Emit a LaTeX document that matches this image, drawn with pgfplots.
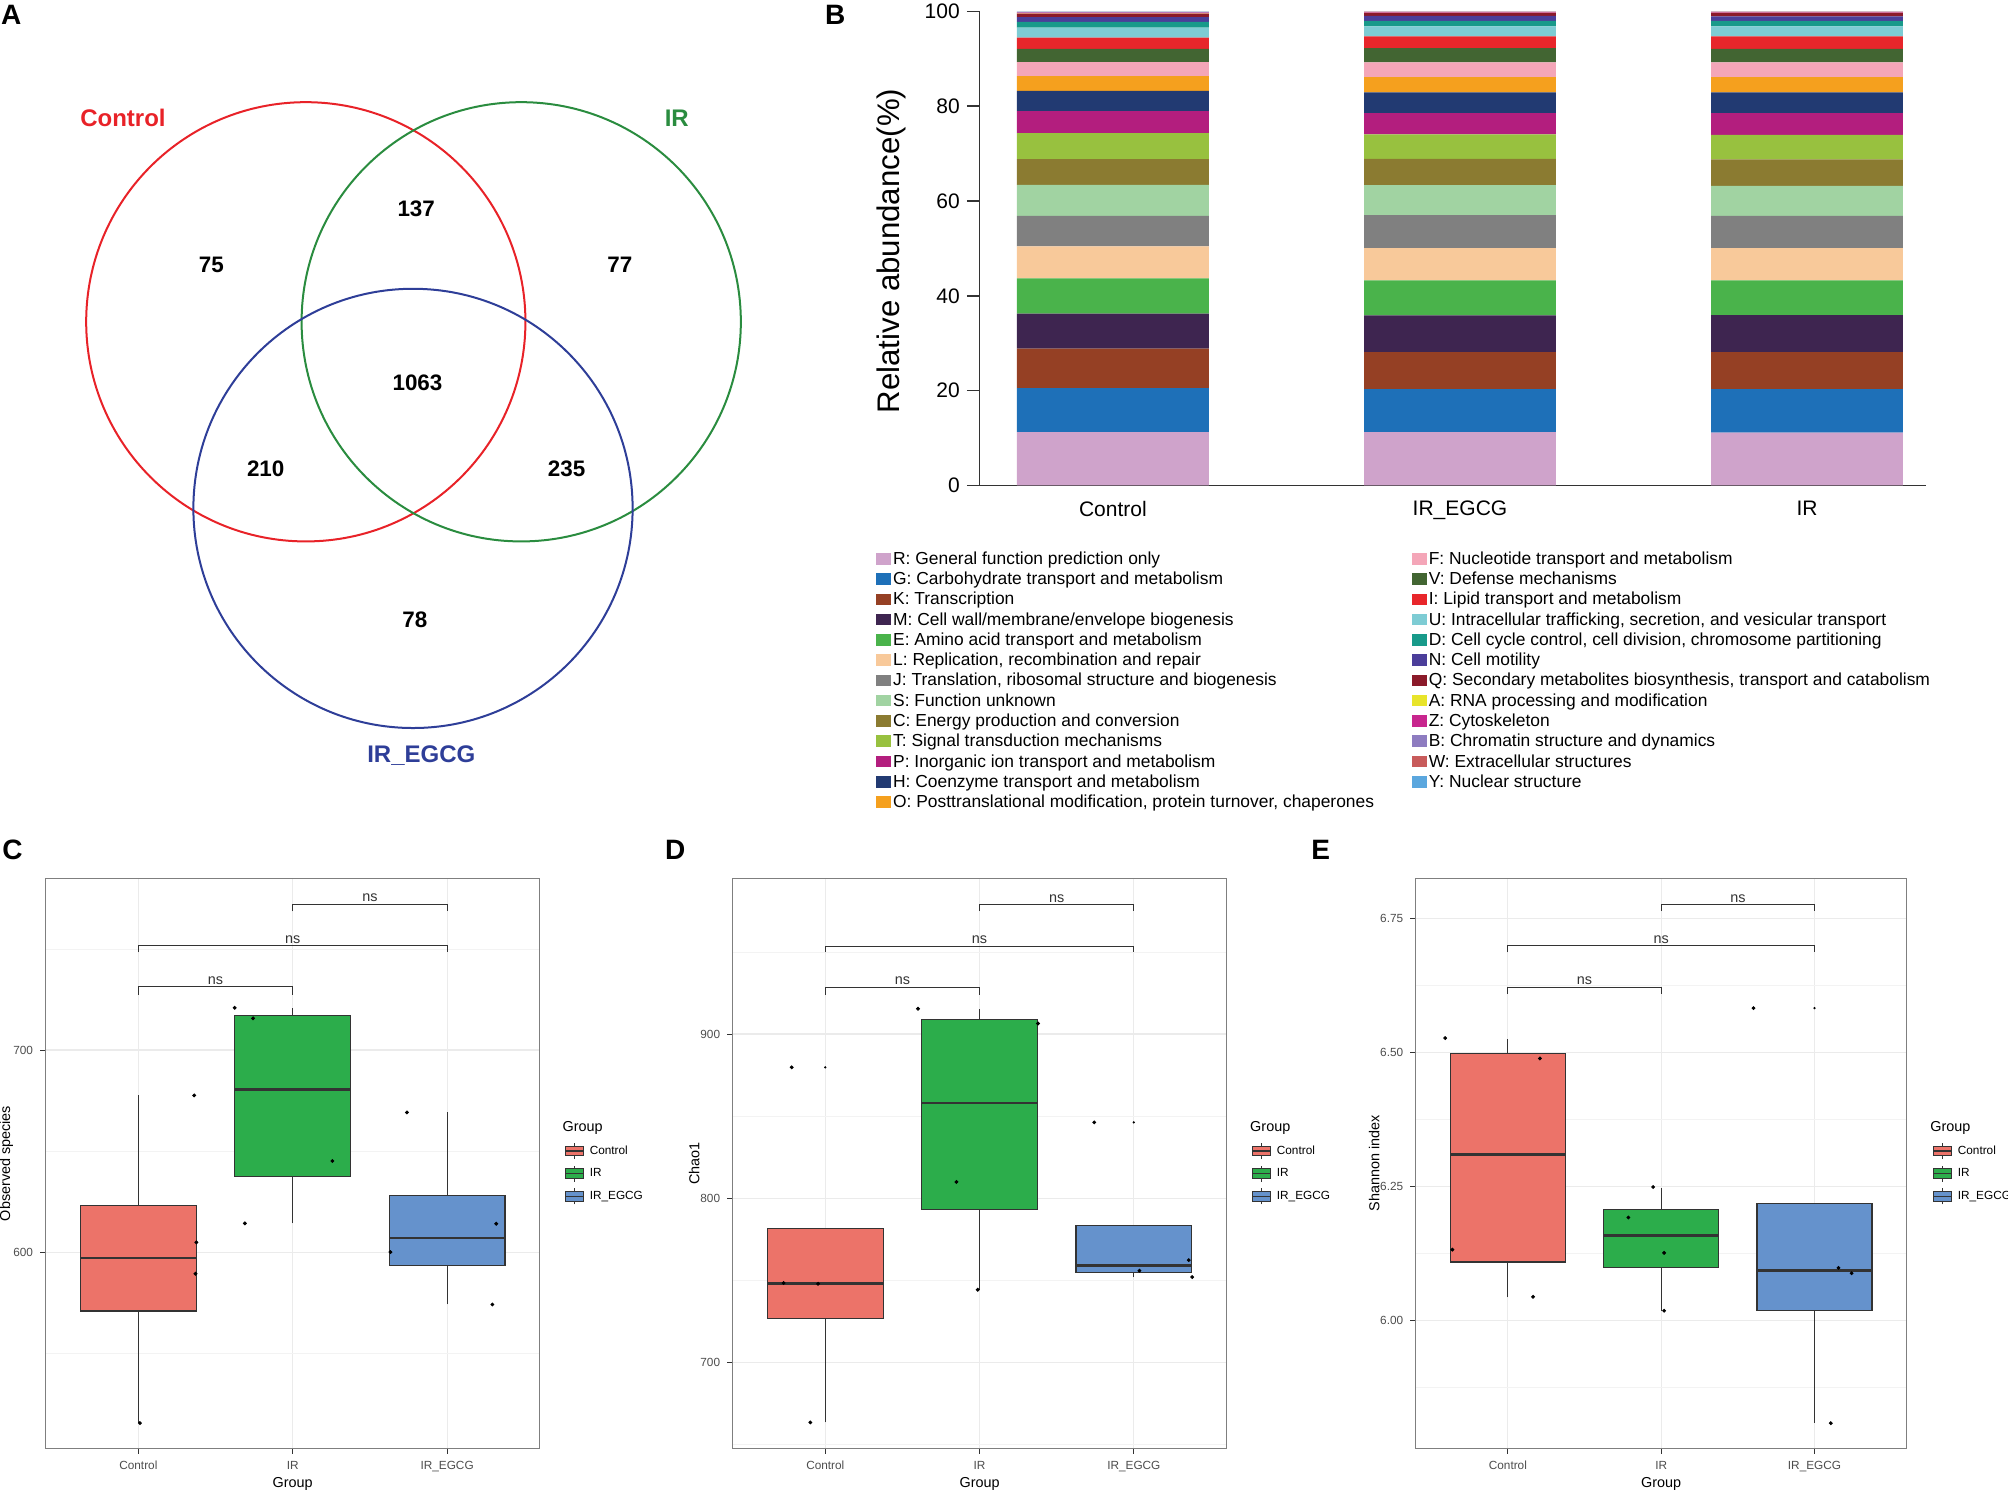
\documentclass[border=0pt]{standalone}
\usepackage{fontspec}
\setmainfont{Liberation Sans}
\usepackage{pgfplots}
\usepackage{pgfplotstable}
\pgfplotsset{compat=1.18}

% colours
\definecolor{c33}{HTML}{333333}
\definecolor{c4d}{HTML}{4D4D4D}
\definecolor{cborder}{HTML}{7F7F7F}
\definecolor{gridmaj}{HTML}{EBEBEB}
\definecolor{gridmin}{HTML}{F3F3F3}
\definecolor{vred}{HTML}{E82228}
\definecolor{vgreen}{HTML}{2A8C3F}
\definecolor{vblue}{HTML}{2E3E98}
\definecolor{bxC}{HTML}{EC7369}
\definecolor{bxI}{HTML}{2CAD4B}
\definecolor{bxE}{HTML}{6592CC}
\definecolor{cogR}{HTML}{CFA3CB}
\definecolor{cogG}{HTML}{1E70B8}
\definecolor{cogK}{HTML}{954024}
\definecolor{cogM}{HTML}{3E2550}
\definecolor{cogE}{HTML}{4AB34B}
\definecolor{cogL}{HTML}{F8C99A}
\definecolor{cogJ}{HTML}{808080}
\definecolor{cogS}{HTML}{A1D3A2}
\definecolor{cogC}{HTML}{8B7B31}
\definecolor{cogT}{HTML}{98C13F}
\definecolor{cogP}{HTML}{B31E7E}
\definecolor{cogH}{HTML}{223A72}
\definecolor{cogO}{HTML}{F5A01E}
\definecolor{cogF}{HTML}{F4A6B8}
\definecolor{cogV}{HTML}{426532}
\definecolor{cogI}{HTML}{E8262B}
\definecolor{cogU}{HTML}{7ECCD4}
\definecolor{cogD}{HTML}{189A8A}
\definecolor{cogN}{HTML}{4B3E9A}
\definecolor{cogQ}{HTML}{8B1A2A}
\definecolor{cogA}{HTML}{E8E42B}
\definecolor{cogZ}{HTML}{C8268E}
\definecolor{cogB}{HTML}{8E7CC0}
\definecolor{cogW}{HTML}{C85B5B}
\definecolor{cogY}{HTML}{5BA7DE}

% relative abundance (%), rows: Control, IR_EGCG, IR
\pgfplotstableread{
x R G K M E L J S C T P H O F V I U D N Q A Z B W Y
0 11.25 9.28 8.30 7.39 7.45 6.75 6.47 6.54 5.42 5.48 4.64 4.29 3.09 2.95 2.81 2.39 2.11 1.20 0.98 0.70 0.05 0.20 0.15 0.05 0.06
1 11.25 9.07 7.81 7.73 7.39 6.82 6.96 6.33 5.56 5.13 4.50 4.36 3.24 3.09 3.02 2.47 2.11 1.19 1.05 0.57 0.05 0.12 0.08 0.05 0.05
2 11.11 9.21 7.81 7.81 7.31 6.82 6.82 6.33 5.56 5.20 4.57 4.36 3.24 3.09 2.88 2.61 2.11 1.19 0.92 0.70 0.05 0.12 0.08 0.05 0.05
}\cogdata

\newcommand\lc[1]{\makebox[258.3pt][l]{#1}}

% box: left, centre, right, lower whisker, Q1, median, Q3, upper whisker, colour
\newcommand\ggbx[9]{%
  \addplot[forget plot, c33, line width=0.55pt] coordinates {(#2,#4) (#2,#5)};
  \addplot[forget plot, c33, line width=0.55pt] coordinates {(#2,#7) (#2,#8)};
  \addplot[forget plot, draw=c33, fill=#9, line width=0.55pt]
    coordinates {(#1,#5) (#3,#5) (#3,#7) (#1,#7)} -- cycle;
  \addplot[forget plot, c33, line width=1.3pt] coordinates {(#1,#6) (#3,#6)};
}

\pgfplotsset{
  every axis/.append style={/pgf/number format/assume math mode=true},
  cogkey/.style={legend image code/.code={\fill[#1] (0pt,-2.05pt) rectangle (7pt,3.25pt);}},
  gkey/.style={legend image code/.code={%
      \draw[c33,line width=0.5pt] (4.5pt,-4pt)--(4.5pt,4pt);
      \filldraw[fill=#1,draw=c33,line width=0.5pt] (0pt,-2.35pt) rectangle (9pt,2.35pt);
      \draw[c33,line width=0.8pt] (0pt,0pt)--(9pt,0pt);}},
  ggbox/.style={
    scale only axis, height=284.8pt, clip=false,
    xmin=0.4, xmax=3.6, xtick={1,2,3}, xticklabels={Control,IR,IR\_EGCG},
    axis line style={draw=cborder, line width=0.6pt},
    tick align=outside, tick pos=left, major tick length=2.8pt, minor tick length=0pt,
    tick style={draw=c33, line width=0.5pt},
    xmajorgrids, ymajorgrids, yminorgrids,
    major grid style={draw=gridmaj, line width=0.6pt},
    minor grid style={draw=gridmin, line width=0.35pt},
    ticklabel style={font=\fontsize{5.9}{7}\selectfont, text=c4d},
    label style={font=\fontsize{7.2}{8.6}\selectfont},
    xlabel={Group},
    xlabel style={at={(axis description cs:0.5,-0.0629)}, anchor=center},
    legend cell align=left,
    legend style={at={(axis description cs:1.049,0.5422)}, anchor=north west,
      draw=none, fill=none, inner sep=0pt, row sep=0pt,
      font=\fontsize{5.9}{7}\selectfont,
      nodes={inner xsep=2.9pt, inner ysep=2.8pt, text height=4.4pt, text depth=1.3pt}},
  },
  pts/.style={forget plot, only marks, mark=*, mark size=0.75pt, black},
  outl/.style={forget plot, only marks, mark=*, mark size=0.35pt, black},
  brk/.style={forget plot, sharp plot, mark=none, c33, line width=0.5pt},
}

\begin{document}
\begin{tikzpicture}
\path[use as bounding box] (0pt,0pt) rectangle (1003.52pt,746.24pt);

% panel letters
\begin{scope}[every node/.style={font=\bfseries\fontsize{14}{16}\selectfont, inner sep=0pt, anchor=west}]
\node at (0.32pt,738.8pt) {A};
\node at (412.16pt,738.8pt) {B};
\node at (1.02pt,321.3pt) {C};
\node at (332.2pt,321.3pt) {D};
\node at (655.2pt,321.3pt) {E};
\end{scope}

% ---------- A: Venn ----------
\begin{axis}[at={(0pt,746.24pt)}, anchor=north west, scale only axis,
  width=409.6pt, height=396.8pt, xmin=0, xmax=640, ymin=0, ymax=620,
  y dir=reverse, hide axis, clip=false]
\draw[vred, line width=1pt] (axis cs:238.8,251.3) ellipse [x radius=171.5, y radius=171.5];
\draw[vgreen, line width=1pt] (axis cs:407,251.3) ellipse [x radius=171.5, y radius=171.5];
\draw[vblue, line width=1pt] (axis cs:322.5,397) ellipse [x radius=171.5, y radius=171.5];
\addplot[draw=none, nodes near coords, point meta=explicit symbolic,
  nodes near coords style={font=\bfseries\fontsize{11.2}{13}\selectfont, anchor=center, black}]
  coordinates {(165,207)[75] (325,163)[137] (484,207)[77] (326,299)[1063]
               (207.5,366)[210] (442.5,366)[235] (324,484)[78]};
\node[font=\bfseries\fontsize{12}{14}\selectfont, vred] at (axis cs:96,92) {Control};
\node[font=\bfseries\fontsize{12}{14}\selectfont, vgreen] at (axis cs:528.5,92) {IR};
\node[font=\bfseries\fontsize{12}{14}\selectfont, vblue] at (axis cs:329,590) {IR\_EGCG};
\end{axis}

% ---------- B: stacked bars ----------
\begin{axis}[at={(489.6pt,503.68pt)}, anchor=south west, scale only axis,
  width=472.96pt, height=236.8pt,
  ybar stacked, bar width=0.553,
  xmin=-0.384, xmax=2.343, ymin=0, ymax=100,
  axis x line=bottom, axis y line=left,
  axis line style={-, draw=c33, line width=0.8pt},
  xtick={0,1,2}, xticklabels={Control,IR\_EGCG,IR},
  xtick style={draw=none},
  ytick={0,20,40,60,80,100},
  ytick style={draw=c33, line width=0.8pt},
  tick align=outside, major tick length=6.4pt,
  ticklabel style={font=\fontsize{10.5}{12}\selectfont},
  xticklabel style={yshift=2pt},
  ylabel={Relative abundance(\%)},
  ylabel style={font=\fontsize{15.6}{18}\selectfont,
    at={(axis description cs:-0.0934,0.4946)}, anchor=center}]
\pgfplotsinvokeforeach{R,G,K,M,E,L,J,S,C,T,P,H,O,F,V,I,U,D,N,Q,A,Z,B,W,Y}{
  \addplot[fill=cog#1, draw=none] table[x=x, y=#1]{\cogdata};
}
\end{axis}

% legend of B
\begin{axis}[at={(489.6pt,503.68pt)}, anchor=south west, scale only axis,
  width=472.96pt, height=236.8pt, hide axis,
  xmin=0, xmax=1, ymin=0, ymax=1,
  legend columns=2, legend cell align=left,
  legend style={at={(axis description cs:-0.1096,-0.1351)}, anchor=north west,
    draw=none, fill=none, inner sep=0pt, column sep=0pt, row sep=0pt,
    font=\fontsize{8.7}{10}\selectfont,
    nodes={inner xsep=1pt, inner ysep=1pt, text height=6.3pt, text depth=1.83pt}}]
\addlegendimage{cogkey=cogR}\addlegendentry{\lc{R: General function prediction only}}
\addlegendimage{cogkey=cogF}\addlegendentry{F: Nucleotide transport and metabolism}
\addlegendimage{cogkey=cogG}\addlegendentry{\lc{G: Carbohydrate transport and metabolism}}
\addlegendimage{cogkey=cogV}\addlegendentry{V: Defense mechanisms}
\addlegendimage{cogkey=cogK}\addlegendentry{\lc{K: Transcription}}
\addlegendimage{cogkey=cogI}\addlegendentry{I: Lipid transport and metabolism}
\addlegendimage{cogkey=cogM}\addlegendentry{\lc{M: Cell wall/membrane/envelope biogenesis}}
\addlegendimage{cogkey=cogU}\addlegendentry{U: Intracellular trafficking, secretion, and vesicular transport}
\addlegendimage{cogkey=cogE}\addlegendentry{\lc{E: Amino acid transport and metabolism}}
\addlegendimage{cogkey=cogD}\addlegendentry{D: Cell cycle control, cell division, chromosome partitioning}
\addlegendimage{cogkey=cogL}\addlegendentry{\lc{L: Replication, recombination and repair}}
\addlegendimage{cogkey=cogN}\addlegendentry{N: Cell motility}
\addlegendimage{cogkey=cogJ}\addlegendentry{\lc{J: Translation, ribosomal structure and biogenesis}}
\addlegendimage{cogkey=cogQ}\addlegendentry{Q: Secondary metabolites biosynthesis, transport and catabolism}
\addlegendimage{cogkey=cogS}\addlegendentry{\lc{S: Function unknown}}
\addlegendimage{cogkey=cogA}\addlegendentry{A: RNA processing and modification}
\addlegendimage{cogkey=cogC}\addlegendentry{\lc{C: Energy production and conversion}}
\addlegendimage{cogkey=cogZ}\addlegendentry{Z: Cytoskeleton}
\addlegendimage{cogkey=cogT}\addlegendentry{\lc{T: Signal transduction mechanisms}}
\addlegendimage{cogkey=cogB}\addlegendentry{B: Chromatin structure and dynamics}
\addlegendimage{cogkey=cogP}\addlegendentry{\lc{P: Inorganic ion transport and metabolism}}
\addlegendimage{cogkey=cogW}\addlegendentry{W: Extracellular structures}
\addlegendimage{cogkey=cogH}\addlegendentry{\lc{H: Coenzyme transport and metabolism}}
\addlegendimage{cogkey=cogY}\addlegendentry{Y: Nuclear structure}
\addlegendimage{cogkey=cogO}\addlegendentry{\lc{O: Posttranslational modification, protein turnover, chaperones}}
\end{axis}

% ---------- C: observed species ----------
\begin{axis}[ggbox, at={(22.85pt,22.4pt)}, anchor=south west, width=246.9pt,
  ymin=503.2, ymax=784.8, ytick={600,700}, minor ytick={550,650,750},
  ylabel={Observed species},
  ylabel style={at={(axis description cs:-0.0796,0.5)}, anchor=center}]
\ggbx{0.625}{1}{1.375}{515.7}{571.1}{597.3}{623.2}{677.6}{bxC}
\ggbx{1.625}{2}{2.375}{614.4}{637.5}{680.4}{717.0}{720.9}{bxI}
\ggbx{2.625}{3}{3.375}{574.3}{593.7}{607.2}{628.0}{669.2}{bxE}
\addplot[pts] coordinates {(1.01,515.7) (1.362,677.6) (1.376,605.0) (1.37,589.5)
  (1.624,720.9) (1.743,715.7) (2.257,645.2) (1.69,614.4)
  (2.74,669.2) (3.318,614.2) (2.633,600.2) (3.293,574.3)};
\addplot[brk] coordinates {(1,727.4) (1,731.2) (2,731.2) (2,727.4)};
\addplot[brk] coordinates {(1,748.3) (1,751.5) (3,751.5) (3,748.3)};
\addplot[brk] coordinates {(2,768.6) (2,772.0) (3,772.0) (3,768.6)};
\node[anchor=base, font=\fontsize{7.2}{8.6}\selectfont, c33] at (axis cs:1.5,732.5) {ns};
\node[anchor=base, font=\fontsize{7.2}{8.6}\selectfont, c33] at (axis cs:2,752.8) {ns};
\node[anchor=base, font=\fontsize{7.2}{8.6}\selectfont, c33] at (axis cs:2.5,773.3) {ns};
\node[anchor=west, inner sep=0pt, font=\fontsize{7.2}{8.6}\selectfont] at (axis description cs:1.0454,0.5618) {Group};
\addlegendimage{gkey=bxC}\addlegendentry{Control}
\addlegendimage{gkey=bxI}\addlegendentry{IR}
\addlegendimage{gkey=bxE}\addlegendentry{IR\_EGCG}
\end{axis}

% ---------- D: Chao1 ----------
\begin{axis}[ggbox, at={(366.2pt,22.4pt)}, anchor=south west, width=246.7pt,
  ymin=647.7, ymax=994.7, ytick={700,800,900}, minor ytick={650,750,850,950},
  ylabel={Chao1},
  ylabel style={at={(axis description cs:-0.0783,0.5)}, anchor=center},
  legend style={at={(axis description cs:1.050,0.5422)}}]
\ggbx{0.625}{1}{1.375}{663.5}{726.9}{748.2}{781.5}{781.5}{bxC}
\ggbx{1.625}{2}{2.375}{744.3}{793.4}{858.1}{908.6}{915.4}{bxI}
\ggbx{2.625}{3}{3.375}{752.0}{754.8}{759.2}{783.2}{783.2}{bxE}
\addplot[outl] coordinates {(1,879.7) (3,846.2)};
\addplot[pts] coordinates {(0.782,879.7) (0.730,748.4) (0.953,747.9) (0.903,663.5)
  (1.601,915.4) (2.379,906.4) (1.850,809.9) (1.988,744.3)
  (2.743,846.2) (3.036,755.9) (3.356,762.3) (3.378,752.0)};
\addplot[brk] coordinates {(1,923.9) (1,928.3) (2,928.3) (2,923.9)};
\addplot[brk] coordinates {(1,949.7) (1,953.5) (3,953.5) (3,949.7)};
\addplot[brk] coordinates {(2,974.9) (2,978.8) (3,978.8) (3,974.9)};
\node[anchor=base, font=\fontsize{7.2}{8.6}\selectfont, c33] at (axis cs:1.5,929.9) {ns};
\node[anchor=base, font=\fontsize{7.2}{8.6}\selectfont, c33] at (axis cs:2,955.0) {ns};
\node[anchor=base, font=\fontsize{7.2}{8.6}\selectfont, c33] at (axis cs:2.5,980.3) {ns};
\node[anchor=west, inner sep=0pt, font=\fontsize{7.2}{8.6}\selectfont] at (axis description cs:1.0475,0.5618) {Group};
\addlegendimage{gkey=bxC}\addlegendentry{Control}
\addlegendimage{gkey=bxI}\addlegendentry{IR}
\addlegendimage{gkey=bxE}\addlegendentry{IR\_EGCG}
\end{axis}

% ---------- E: Shannon ----------
\begin{axis}[ggbox, at={(707.6pt,22.4pt)}, anchor=south west, width=245.2pt,
  ymin=5.761, ymax=6.825, ytick={6.00,6.25,6.50,6.75}, minor ytick={5.875,6.125,6.375,6.625},
  yticklabel style={/pgf/number format/.cd, fixed, fixed zerofill, precision=2},
  ylabel={Shannon index},
  ylabel style={at={(axis description cs:-0.085,0.5)}, anchor=center},
  legend style={at={(axis description cs:1.052,0.5422)}}]
\ggbx{0.625}{1}{1.375}{6.043}{6.109}{6.310}{6.499}{6.526}{bxC}
\ggbx{1.625}{2}{2.375}{6.018}{6.098}{6.159}{6.207}{6.248}{bxI}
\ggbx{2.625}{3}{3.375}{5.809}{6.019}{6.093}{6.219}{6.219}{bxE}
\addplot[outl] coordinates {(3,6.583)};
\addplot[pts] coordinates {(0.591,6.527) (1.209,6.489) (0.638,6.132) (1.164,6.044)
  (1.947,6.249) (1.786,6.192) (2.019,6.126) (2.019,6.018)
  (2.602,6.583) (3.156,6.098) (3.242,6.088) (3.106,5.808)};
\addplot[brk] coordinates {(1,6.609) (1,6.622) (2,6.622) (2,6.609)};
\addplot[brk] coordinates {(1,6.687) (1,6.699) (3,6.699) (3,6.687)};
\addplot[brk] coordinates {(2,6.764) (2,6.776) (3,6.776) (3,6.764)};
\node[anchor=base, font=\fontsize{7.2}{8.6}\selectfont, c33] at (axis cs:1.5,6.627) {ns};
\node[anchor=base, font=\fontsize{7.2}{8.6}\selectfont, c33] at (axis cs:2,6.704) {ns};
\node[anchor=base, font=\fontsize{7.2}{8.6}\selectfont, c33] at (axis cs:2.5,6.781) {ns};
\node[anchor=west, inner sep=0pt, font=\fontsize{7.2}{8.6}\selectfont] at (axis description cs:1.0478,0.5618) {Group};
\addlegendimage{gkey=bxC}\addlegendentry{Control}
\addlegendimage{gkey=bxI}\addlegendentry{IR}
\addlegendimage{gkey=bxE}\addlegendentry{IR\_EGCG}
\end{axis}
\end{tikzpicture}
\end{document}
